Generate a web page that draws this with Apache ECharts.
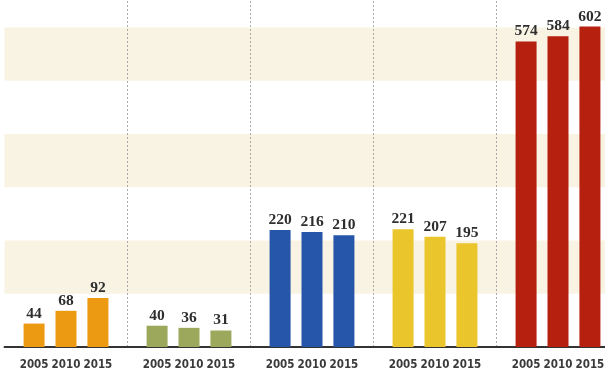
<!DOCTYPE html>
<html>
<head>
<meta charset="utf-8">
<script src="https://cdn.jsdelivr.net/npm/echarts@6/dist/echarts.min.js"></script>
<style>
  html, body { margin: 0; padding: 0; background: #fff; }
  #chart { width: 605px; height: 380px; }
</style>
</head>
<body>
<div id="chart"></div>
<script>
// five groups, three years each
var groups = ["A", "B", "C", "D", "E"];
var years = ["2005", "2010", "2015"];
var v2005 = [44, 40, 220, 221, 574];
var v2010 = [68, 36, 216, 207, 584];
var v2015 = [92, 31, 210, 195, 602];
var groupColors = ["#eb9a12", "#9ca95c", "#2656a9", "#eac52c", "#b6200f"];
var zeros = [0, 0, 0, 0, 0];

var yearValues = [v2005, v2010, v2015];
var series = [];
years.forEach(function (yr, i) {
  // zero-height base bar, only carries the year label under the axis
  series.push({
    name: yr + "_base",
    type: "bar",
    stack: yr,
    barWidth: 21,
    barGap: "52%",
    data: zeros,
    itemStyle: { color: "transparent" },
    silent: true,
    label: {
      show: true,
      position: "bottom",
      distance: 12,
      formatter: yr,
      color: "#3a3a3a",
      fontFamily: "DejaVu Sans Condensed",
      fontWeight: "bold",
      fontSize: 11.5
    }
  });
  series.push({
    name: yr,
    type: "bar",
    stack: yr,
    barWidth: 21,
    barGap: "52%",
    data: yearValues[i].map(function (v, g) {
      return { value: v, itemStyle: { color: groupColors[g] } };
    }),
    label: {
      show: true,
      position: "top",
      distance: 2,
      color: "#2e2e2e",
      fontFamily: "Liberation Serif",
      fontWeight: "bold",
      fontSize: 15.5
    }
  });
});

var myChart = echarts.init(document.getElementById("chart"));
var option = {
  animation: false,
  backgroundColor: "#ffffff",
  grid: {
    left: 4.5,
    width: 615,
    top: 1,
    bottom: 33,
    containLabel: false,
    outerBoundsMode: "none"
  },
  xAxis: {
    type: "category",
    data: groups,
    axisLabel: { show: false },
    axisTick: { show: false },
    axisLine: {
      lineStyle: { color: "#333", width: 2 }
    },
    splitLine: {
      show: true,
      interval: function (index) {
        return index > 0;
      },
      lineStyle: { color: "#a9a9a9", type: [2, 2], width: 1 }
    }
  },
  yAxis: {
    type: "value",
    min: 0,
    max: 650,
    interval: 100,
    show: true,
    axisLabel: { show: false },
    axisTick: { show: false },
    axisLine: { show: false },
    splitLine: { show: false },
    splitArea: {
      show: true,
      areaStyle: { color: ["rgba(255,255,255,0)", "#f9f3e4"] }
    }
  },
  series: series
};
myChart.setOption(option, true);
</script>
</body>
</html>
